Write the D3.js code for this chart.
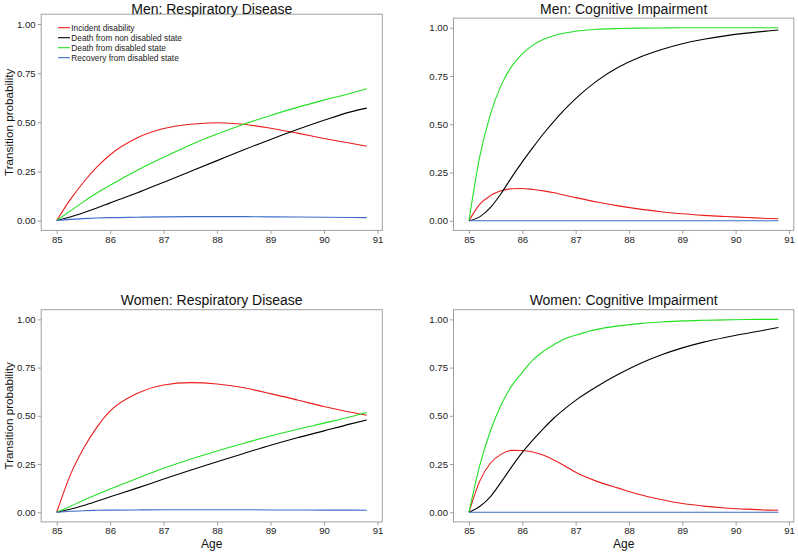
<!DOCTYPE html>
<html>
<head>
<meta charset="utf-8">
<script src="https://cdn.jsdelivr.net/npm/d3@7"></script>
<style>
  html, body { margin: 0; padding: 0; background: #fff; }
  svg { display: block; font-family: "Liberation Sans", Arial, sans-serif; }
</style>
</head>
<body>
<svg id="chart" width="798" height="555"></svg>
<script>
// ---------- data ----------
const seriesNames = ["Incident disability", "Death from non disabled state", "Death from disabled state", "Recovery from disabled state"];
const seriesColors = ["#ec1c1c", "#000000", "#22e022", "#3b6cc8"];
const xTicks = [85, 86, 87, 88, 89, 90, 91];
const yTicks = [0, 0.25, 0.5, 0.75, 1];
const yTickLabels = ["0.00", "0.25", "0.50", "0.75", "1.00"];
const panelTitles = ["Men: Respiratory Disease", "Men: Cognitive Impairment", "Women: Respiratory Disease", "Women: Cognitive Impairment"];

const agesResp = [85, 85.25, 85.5, 85.75, 86, 86.5, 87, 87.5, 88, 88.5, 89, 89.5, 90, 90.5, 90.8];
const agesCog  = [85, 85.2, 85.4, 85.6, 85.8, 86, 86.2, 86.4, 86.6, 86.8, 87, 87.4, 87.8, 88.2, 88.6, 89, 89.4, 89.8, 90.2, 90.6, 90.8];

// Men: Respiratory Disease
const menRespIncident = [0, 0.105, 0.195, 0.272, 0.335, 0.42, 0.468, 0.49, 0.498, 0.49, 0.47, 0.445, 0.418, 0.393, 0.378];
const menRespDeathNon = [0, 0.018, 0.04, 0.064, 0.09, 0.14, 0.195, 0.25, 0.305, 0.36, 0.413, 0.463, 0.51, 0.553, 0.572];
const menRespDeathDis = [0, 0.048, 0.095, 0.14, 0.18, 0.255, 0.322, 0.385, 0.44, 0.49, 0.535, 0.576, 0.613, 0.648, 0.671];
const menRespRecovery = [0, 0.006, 0.01, 0.013, 0.015, 0.017, 0.019, 0.02, 0.02, 0.02, 0.019, 0.018, 0.017, 0.016, 0.015];

// Men: Cognitive Impairment
const menCogIncident = [0, 0.085, 0.13, 0.155, 0.166, 0.167, 0.162, 0.155, 0.145, 0.132, 0.12, 0.097, 0.077, 0.06, 0.047, 0.036, 0.028, 0.022, 0.017, 0.012, 0.01];
const menCogDeathNon = [0, 0.02, 0.068, 0.14, 0.225, 0.305, 0.38, 0.452, 0.518, 0.578, 0.633, 0.725, 0.795, 0.847, 0.886, 0.917, 0.94, 0.958, 0.972, 0.983, 0.988];
const menCogDeathDis = [0, 0.33, 0.55, 0.70, 0.80, 0.865, 0.91, 0.94, 0.96, 0.973, 0.982, 0.992, 0.996, 0.998, 0.999, 1, 1, 1, 1, 1, 1];
const menCogRecovery = [0, 0, 0, 0, 0, 0, 0, 0, 0, 0, 0, 0, 0, 0, 0, 0, 0, 0, 0, 0, 0];

// Women: Respiratory Disease
const womenRespIncident = [0, 0.19, 0.33, 0.44, 0.525, 0.615, 0.66, 0.672, 0.665, 0.645, 0.615, 0.582, 0.548, 0.518, 0.503];
const womenRespDeathNon = [0, 0.016, 0.035, 0.057, 0.08, 0.125, 0.172, 0.218, 0.262, 0.305, 0.347, 0.386, 0.422, 0.458, 0.478];
const womenRespDeathDis = [0, 0.03, 0.062, 0.092, 0.12, 0.175, 0.228, 0.275, 0.318, 0.358, 0.395, 0.43, 0.462, 0.495, 0.517];
const womenRespRecovery = [0, 0.005, 0.008, 0.01, 0.011, 0.012, 0.013, 0.013, 0.013, 0.013, 0.012, 0.012, 0.011, 0.011, 0.01];

// Women: Cognitive Impairment
const womenCogIncident = [0, 0.16, 0.254, 0.30, 0.321, 0.32, 0.312, 0.295, 0.27, 0.24, 0.207, 0.16, 0.125, 0.092, 0.066, 0.045, 0.032, 0.022, 0.016, 0.011, 0.01];
const womenCogDeathNon = [0, 0.03, 0.08, 0.155, 0.235, 0.31, 0.375, 0.435, 0.49, 0.537, 0.58, 0.652, 0.715, 0.77, 0.815, 0.852, 0.882, 0.906, 0.927, 0.947, 0.958];
const womenCogDeathDis = [0, 0.24, 0.42, 0.555, 0.655, 0.725, 0.79, 0.835, 0.87, 0.9, 0.918, 0.948, 0.966, 0.978, 0.986, 0.992, 0.995, 0.997, 0.999, 1, 1];
const womenCogRecovery = [0, 0, 0, 0, 0, 0, 0, 0, 0, 0, 0, 0, 0, 0, 0, 0, 0, 0, 0, 0, 0];

// ---------- layout ----------
const panels = [
  { title: panelTitles[0], ages: agesResp, series: [menRespIncident, menRespDeathNon, menRespDeathDis, menRespRecovery],
    box: { l: 41.2, r: 382.3, t: 14.2, b: 230.4 }, titleY: 13.5, ylab: true, xlab: false, legend: true },
  { title: panelTitles[1], ages: agesCog, series: [menCogIncident, menCogDeathNon, menCogDeathDis, menCogRecovery],
    box: { l: 453.5, r: 793.8, t: 18.1, b: 230.4 }, titleY: 13.5, ylab: false, xlab: false, legend: false },
  { title: panelTitles[2], ages: agesResp, series: [womenRespIncident, womenRespDeathNon, womenRespDeathDis, womenRespRecovery],
    box: { l: 41.2, r: 382.3, t: 309.7, b: 521.9 }, titleY: 304.5, ylab: true, xlab: true, legend: false },
  { title: panelTitles[3], ages: agesCog, series: [womenCogIncident, womenCogDeathNon, womenCogDeathDis, womenCogRecovery],
    box: { l: 453.5, r: 793.8, t: 309.7, b: 521.9 }, titleY: 304.5, ylab: false, xlab: true, legend: false }
];

const svg = d3.select("#chart");
const borderCol = "#a0a0a0";
const textCol = "#222";

panels.forEach((p, pi) => {
  const B = p.box;
  const x = d3.scaleLinear().domain([84.71, 91.09]).range([B.l, B.r]);
  const y = d3.scaleLinear().domain([-0.05, 1.05]).range([B.b, B.t]);
  const g = svg.append("g");

  // axes
  const xAxis = d3.axisBottom(x).tickValues(xTicks).tickSize(3.5).tickPadding(2).tickFormat(d3.format("d"));
  const yAxis = d3.axisLeft(y).tickValues(yTicks).tickSize(3.5).tickPadding(2).tickFormat((d, i) => yTickLabels[i]);
  const gx = g.append("g").attr("transform", `translate(0,${B.b})`).call(xAxis);
  const gy = g.append("g").attr("transform", `translate(${B.l},0)`).call(yAxis);
  [gx, gy].forEach(a => {
    a.select(".domain").remove();
    a.selectAll(".tick line").attr("stroke", borderCol).attr("stroke-width", 1);
    a.selectAll(".tick text").attr("fill", textCol).style("font-size", "9.6px").style("font-family", "Liberation Sans, Arial, sans-serif");
  });

  // lines
  const clipId = "clip" + pi;
  g.append("clipPath").attr("id", clipId).append("rect")
    .attr("x", B.l).attr("y", B.t).attr("width", B.r - B.l).attr("height", B.b - B.t);
  const line = d3.line().x(d => x(d[0])).y(d => y(d[1])).curve(d3.curveMonotoneX);
  p.series.forEach((vals, i) => {
    const pts = p.ages.map((a, j) => [a, vals[j]]);
    g.append("path").attr("d", line(pts)).attr("fill", "none")
      .attr("stroke", seriesColors[i]).attr("stroke-width", 1.1)
      .attr("clip-path", `url(#${clipId})`);
  });

  // border
  g.append("rect").attr("x", B.l).attr("y", B.t).attr("width", B.r - B.l).attr("height", B.b - B.t)
    .attr("fill", "none").attr("stroke", borderCol).attr("stroke-width", 1);

  // title
  g.append("text").attr("x", (B.l + B.r) / 2).attr("y", p.titleY).attr("text-anchor", "middle")
    .attr("fill", "#111").style("font-size", "14px").text(p.title);

  if (p.ylab) {
    g.append("text").attr("transform", `translate(12.5,${(B.t + B.b) / 2}) rotate(-90)`)
      .attr("text-anchor", "middle").attr("fill", "#111").style("font-size", "11.7px").text("Transition probability");
  }
  if (p.xlab) {
    g.append("text").attr("x", (B.l + B.r) / 2).attr("y", 548).attr("text-anchor", "middle")
      .attr("fill", "#111").style("font-size", "12px").text("Age");
  }
  if (p.legend) {
    const lg = g.append("g");
    seriesNames.forEach((nm, i) => {
      const yy = 27.7 + i * 10;
      lg.append("line").attr("x1", 58).attr("x2", 70).attr("y1", yy).attr("y2", yy)
        .attr("stroke", seriesColors[i]).attr("stroke-width", 1.1);
      lg.append("text").attr("x", 71.3).attr("y", yy + 3).attr("fill", textCol)
        .style("font-size", "8.3px").text(nm);
    });
  }
});
</script>
</body>
</html>
